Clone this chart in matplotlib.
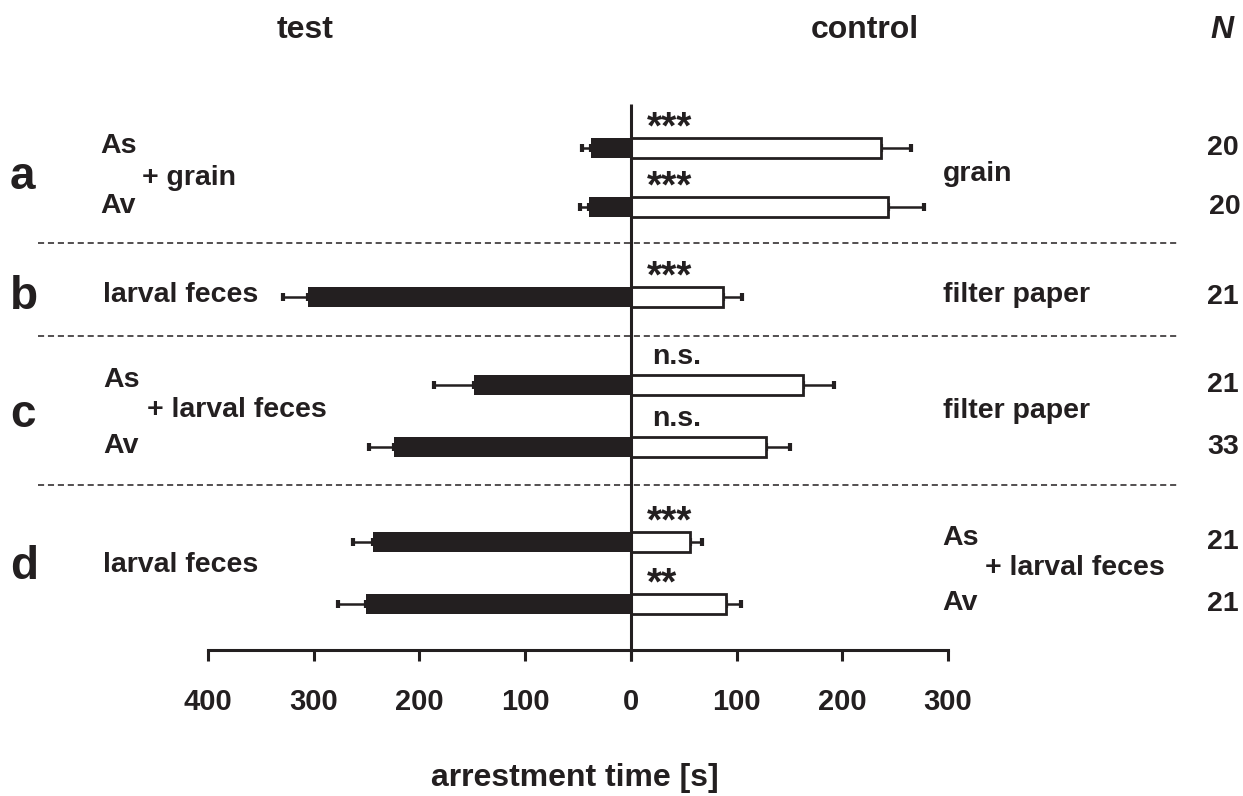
import numpy as np
import matplotlib
matplotlib.use('Agg')
import matplotlib.pyplot as plt
from matplotlib.ticker import FuncFormatter

plt.rcParams['font.family'] = ['Liberation Sans', 'DejaVu Sans']
plt.rcParams['font.weight'] = 'bold'

# arrestment time [s]
test_mean = [38, 40, 305, 148, 224, 244, 251]
test_err = [8, 8, 24, 38, 24, 19, 26]
control_mean = [237, 243, 87, 163, 128, 56, 90]
control_err = [28, 34, 18, 29, 23, 11, 14]
signif = ['***', '***', '***', 'n.s.', 'n.s.', '***', '**']
n_values = ['20', '20', '21', '21', '33', '21', '21']
x_ticks = [-400, -300, -200, -100, 0, 100, 200, 300]

ink = '#231f20'
W, H = 1243, 796

# layout (pixel rows, y measured from the top)
row_y = [148, 207, 297, 385, 447, 542, 604]
bar_h = 20
sep_y = [243, 336, 485]

fig = plt.figure(figsize=(W / 100, H / 100), dpi=100)
ax = fig.add_axes([208 / W, 0, (948 - 208) / W, 1])
ax.set_xlim(-400, 300)
ax.set_ylim(H, 0)

# test bars (black, to the left) and control bars (white, to the right)
ax.barh(row_y, [-v for v in test_mean], height=bar_h, color=ink, edgecolor=ink, linewidth=0, zorder=2)
ax.barh(row_y, control_mean, height=bar_h, color='white', edgecolor=ink, linewidth=2.0, zorder=2)
ax.errorbar([-v for v in test_mean], row_y, xerr=[test_err, [0] * len(test_err)],
            fmt='none', ecolor=ink, elinewidth=1.8, capsize=3, capthick=3, zorder=1)
ax.errorbar(control_mean, row_y, xerr=[[0] * len(control_err), control_err],
            fmt='none', ecolor=ink, elinewidth=1.8, capsize=3, capthick=3, zorder=1)
ax.vlines(0, 104, 661, color=ink, linewidth=2.2, zorder=3)

for s in ['top', 'left', 'right']:
    ax.spines[s].set_visible(False)
ax.spines['bottom'].set_position(('data', 650))
ax.spines['bottom'].set_linewidth(2.2)
ax.spines['bottom'].set_color(ink)
ax.set_yticks([])
ax.set_xticks(x_ticks)
ax.xaxis.set_major_formatter(FuncFormatter(lambda v, p: '%d' % abs(v)))
ax.tick_params(axis='x', direction='out', length=8, width=2.2, color=ink,
               labelsize=21, labelcolor=ink, pad=19)
for lab in ax.get_xticklabels():
    lab.set_fontweight('bold')
ax.patch.set_visible(False)

# overlay in pixel coordinates for the annotations
ov = fig.add_axes([0, 0, 1, 1], zorder=-1)
ov.set_xlim(0, W)
ov.set_ylim(H, 0)
ov.axis('off')

for y in sep_y:
    ov.plot([38, 1180], [y, y], color=ink, linewidth=1.1, dashes=(4, 2.5))

fs = 20.5
ov.text(305, 30, 'test', fontsize=23, ha='center', va='center', color=ink)
ov.text(865, 30, 'control', fontsize=23, ha='center', va='center', color=ink)
ov.text(1222, 30, 'N', fontsize=23, ha='center', va='center', style='italic', color=ink)

for letter, y in zip(['a', 'b', 'c', 'd'], [177, 297, 415, 567]):
    ov.text(10, y, letter, fontsize=33, ha='left', va='center', color=ink)

# test side labels
ov.text(100, 146, 'As', fontsize=fs, ha='left', va='center', color=ink)
ov.text(100, 206, 'Av', fontsize=fs, ha='left', va='center', color=ink)
ov.text(142, 178, '+ grain', fontsize=fs, ha='left', va='center', color=ink)
ov.text(103, 295, 'larval feces', fontsize=fs, ha='left', va='center', color=ink)
ov.text(103, 380, 'As', fontsize=fs, ha='left', va='center', color=ink)
ov.text(147, 410, '+ larval feces', fontsize=fs, ha='left', va='center', color=ink)
ov.text(103, 446, 'Av', fontsize=fs, ha='left', va='center', color=ink)
ov.text(103, 565, 'larval feces', fontsize=fs, ha='left', va='center', color=ink)

# control side labels
ov.text(943, 174, 'grain', fontsize=fs, ha='left', va='center', color=ink)
ov.text(943, 295, 'filter paper', fontsize=fs, ha='left', va='center', color=ink)
ov.text(943, 411, 'filter paper', fontsize=fs, ha='left', va='center', color=ink)
ov.text(942, 538, 'As', fontsize=fs, ha='left', va='center', color=ink)
ov.text(985, 568, '+ larval feces', fontsize=fs, ha='left', va='center', color=ink)
ov.text(942, 603, 'Av', fontsize=fs, ha='left', va='center', color=ink)

# N column
n_x = [1239, 1241, 1239, 1239, 1239, 1239, 1239]
for x, y, n in zip(n_x, row_y, n_values):
    ov.text(x, y, n, fontsize=fs, ha='right', va='center', color=ink)

# significance marks above the control bars
for y, s in zip(row_y, signif):
    if s.startswith('*'):
        ov.text(647, y - 20, s, fontsize=28, ha='left', va='center', color=ink)
    else:
        ov.text(652, y - 28, s, fontsize=fs, ha='left', va='center', color=ink)

ov.text(575, 778, 'arrestment time [s]', fontsize=23, ha='center', va='center', color=ink)

fig.savefig('out.png', dpi=100)
